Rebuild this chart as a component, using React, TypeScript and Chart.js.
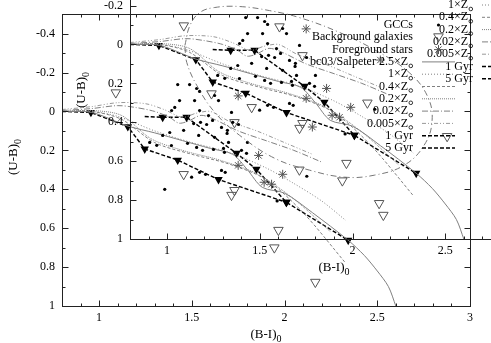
import React, { useEffect, useRef } from 'react';
import { Chart, registerables } from 'chart.js';

Chart.register(...registerables);

const FONT = "'Liberation Serif', 'Times New Roman', serif";

// axis ticks
const xTickValues = [1, 1.5, 2, 2.5, 3];
const xTickLabels = ['1', '1.5', '2', '2.5', '3'];
const yTickValues = [-0.4, -0.2, 0, 0.2, 0.4, 0.6, 0.8, 1];
const yTickLabels = ['-0.4', '-0.2', '0', '0.2', '0.4', '0.6', '0.8', '1'];

// GCCs
const gccBI = [1.424, 1.488, 1.526, 1.542, 1.434, 1.515, 1.408, 1.391, 1.542, 1.59, 1.612, 1.51, 1.58, 1.456, 1.381, 1.66, 1.623, 1.714, 1.752, 1.692, 1.644, 1.547, 1.623, 1.698, 1.537, 1.273, 1.311, 1.477, 1.526, 1.671, 1.558, 1.66, 1.68, 1.542, 1.574, 1.499, 1.354, 1.69, 1.8, 1.795, 2.12, 1.96, 1.39, 1.343, 1.768, 1.617, 1.676];
const gccUB = [-0.138, -0.138, -0.118, -0.103, -0.056, -0.056, -0.021, -0.005, -0.005, 0.021, 0.046, 0.062, 0.067, 0.097, 0.108, 0.082, -0.082, 0.005, 0.067, 0.097, -0.056, 0.056, 0.133, 0.159, 0.123, 0.159, 0.174, 0.164, 0.185, 0.19, 0.2, 0.303, 0.313, 0.313, 0.323, 0.338, 0.4, 0.113, 0.159, 0.215, 0.333, 0.46, 0.175, 0.123, 0.2, 0.195, 0.21];

// Background galaxies
const bgBI = [1.09, 1.606, 1.73, 1.456, 2.08, 1.714, 1.73, 1.967, 1.945, 2.51, 2.166];
const bgUB = [-0.097, -0.092, 0.056, 0.323, 0.3, 0.43, 0.405, 0.61, 0.7, 0.472, 0.877];

// Foreground stars
const fgBI = [1.75, 1.86, 1.75, 1.99, 1.89, 1.93, 2.15];
const fgUB = [-0.08, 0.226, 0.277, 0.323, 0.364, 0.374, 0.08];

// bc03 / Salpeter model tracks
const trk25BI = [0.8, 0.96, 1.155, 1.3, 1.45, 1.6, 1.72, 1.8, 1.88, 2.0, 2.15, 2.343, 2.43, 2.5, 2.56, 2.6];
const trk25UB = [0, 0.005, 0.075, 0.11, 0.15, 0.19, 0.22, 0.3, 0.39, 0.42, 0.52, 0.662, 0.74, 0.82, 0.9, 1.0];
const trk1BI = [0.8, 0.96, 1.1, 1.3, 1.5, 1.7, 1.9, 2.05, 2.2, 2.33];
const trk1UB = [0, 0.0, 0.025, 0.1, 0.16, 0.21, 0.29, 0.37, 0.46, 0.56];
const trk04BI = [0.8, 0.96, 1.12, 1.3, 1.5, 1.7, 1.9, 2.1, 2.33];
const trk04UB = [0, 0.0, 0.04, 0.16, 0.22, 0.27, 0.35, 0.52, 0.78];
const trk02BI = [0.8, 0.96, 1.12, 1.28, 1.45, 1.65, 1.85, 2.05, 2.25];
const trk02UB = [0, -0.005, 0.02, 0.14, 0.2, 0.25, 0.32, 0.45, 0.62];
const trk002BI = [0.8, 0.96, 1.1, 1.2, 1.3, 1.38, 1.43, 1.48, 1.55, 1.62, 1.75, 1.9, 2.05, 2.2];
const trk002UB = [-0.005, -0.015, -0.03, -0.02, 0.0, 0.03, 0.06, 0.05, 0.02, 0.04, 0.1, 0.15, 0.2, 0.26];
const trk0005BI = [0.8, 0.96, 1.1, 1.25, 1.35, 1.45, 1.52, 1.6, 1.7, 1.85, 2.0, 2.15];
const trk0005UB = [-0.01, -0.025, -0.045, -0.04, -0.01, 0.03, 0.01, 0.0, 0.05, 0.1, 0.16, 0.22];

// age lines
const gyr5BI = [0.8, 0.956, 1.155, 1.246, 1.424, 1.644, 2.01];
const gyr5UB = [0, 0.005, 0.078, 0.193, 0.25, 0.35, 0.467];
const gyr1BI = [1.246, 1.343, 1.472, 1.741, 1.848, 2.01, 2.343];
const gyr1UB = [0.026, 0.03, 0.03, 0.215, 0.297, 0.467, 0.662];

// selection ellipse (inset only)
const ellBI = [1.096, 1.123, 1.176, 1.257, 1.391, 1.553, 1.714, 1.929, 2.144, 2.305, 2.402, 2.429, 2.386, 2.278, 2.117, 1.956, 1.768, 1.58, 1.391, 1.257, 1.16, 1.106, 1.096];
const ellUB = [0.005, -0.097, -0.164, -0.19, -0.195, -0.174, -0.138, -0.062, 0.041, 0.144, 0.262, 0.39, 0.518, 0.621, 0.672, 0.682, 0.646, 0.585, 0.467, 0.349, 0.21, 0.092, 0.005];

const legendLabels = ['GCCs', 'Background galaxies', 'Foreground stars', 'bc03/Salpeter 2.5×Z', '1×Z', '0.4×Z', '0.2×Z', '0.02×Z', '0.005×Z', '1 Gyr', '5 Gyr'];
const legendSun = [false, false, false, true, true, true, true, true, true, false, false];

const GRAY = '#808080';
const dashes: number[][] = [[], [1, 2], [3, 2], [1, 1], [6, 2, 1, 2], [4, 2, 1, 2, 1, 2]];

const pts = (xs: number[], ys: number[]) => xs.map((x, i) => ({ x, y: ys[i] }));

function lineDs(xs: number[], ys: number[], dash: number[], color = GRAY, width = 1, tension = 0) {
  return {
    data: pts(xs, ys), showLine: true, borderColor: color, borderWidth: width, borderDash: dash,
    pointRadius: 0, fill: false, tension,
  };
}

function buildDatasets(withEllipse: boolean) {
  const ds: any[] = [
    { data: pts(gccBI, gccUB), showLine: false, pointRadius: 1.6, pointBackgroundColor: '#000', pointBorderColor: '#000', pointBorderWidth: 0 },
    { data: pts(bgBI, bgUB), showLine: false, pointStyle: 'triangle', pointRotation: 180, pointRadius: 5.5, pointBorderColor: '#555', pointBackgroundColor: 'rgba(0,0,0,0)', pointBorderWidth: 1 },
    { data: pts(fgBI, fgUB), showLine: false, pointStyle: 'star', pointRadius: 4.5, pointBorderColor: '#555', pointBorderWidth: 1 },
    lineDs(trk25BI, trk25UB, dashes[0], GRAY, 1, 0.3),
    lineDs(trk1BI, trk1UB, dashes[1], GRAY, 1, 0.3),
    lineDs(trk04BI, trk04UB, dashes[2], GRAY, 1, 0.3),
    lineDs(trk02BI, trk02UB, dashes[3], GRAY, 1, 0.3),
    lineDs(trk002BI, trk002UB, dashes[4], GRAY, 1, 0.3),
    lineDs(trk0005BI, trk0005UB, dashes[5], '#999', 1, 0.3),
    {
      data: pts(gyr1BI, gyr1UB), showLine: true, borderColor: '#000', borderWidth: 1.4, borderDash: [4, 2],
      pointStyle: 'triangle', pointRotation: 180, pointRadius: gyr1BI.map((_, i) => (i === 0 ? 0 : 3.5)),
      pointBackgroundColor: '#000', pointBorderColor: '#000', fill: false,
    },
    {
      data: pts(gyr5BI, gyr5UB), showLine: true, borderColor: '#000', borderWidth: 1.4, borderDash: [4, 2],
      pointStyle: 'triangle', pointRotation: 180, pointRadius: gyr5BI.map((_, i) => (i === 0 ? 0 : 3.5)),
      pointBackgroundColor: '#000', pointBorderColor: '#000', fill: false,
    },
  ];
  if (withEllipse) ds.push(lineDs(ellBI, ellUB, [6, 3, 1, 3], '#777', 1, 0.4));
  return ds;
}

function drawSubText(ctx: CanvasRenderingContext2D, main: string, sub: string, x: number, y: number, size: number) {
  ctx.font = `${size}px ${FONT}`;
  const w1 = ctx.measureText(main).width;
  ctx.font = `${size - 3}px ${FONT}`;
  const w2 = ctx.measureText(sub).width;
  const x0 = x - (w1 + w2) / 2;
  ctx.textAlign = 'left';
  ctx.textBaseline = 'middle';
  ctx.font = `${size}px ${FONT}`;
  ctx.fillText(main, x0, y);
  ctx.font = `${size - 3}px ${FONT}`;
  ctx.fillText(sub, x0 + w1, y + 4);
}

const framePlugin = {
  id: 'frame',
  afterDraw(chart: any, _args: any, opts: any) {
    const { ctx, chartArea: a, scales } = chart;
    const xs = scales.x, ys = scales.y;
    const L = Math.round(a.left) + 0.5, R = Math.round(a.right) + 0.5;
    const T = Math.round(a.top) + 0.5, B = Math.round(a.bottom) + 0.5;
    ctx.save();
    ctx.strokeStyle = '#222';
    ctx.lineWidth = 1;
    ctx.setLineDash([]);
    ctx.strokeRect(L, T, R - L, B - T);
    ctx.beginPath();
    for (let i = 8; i <= 30; i++) {
      const px = Math.round(xs.getPixelForValue(i / 10)) + 0.5;
      const len = i % 5 === 0 ? 6 : 3;
      ctx.moveTo(px, B); ctx.lineTo(px, B - len);
      ctx.moveTo(px, T); ctx.lineTo(px, T + len);
    }
    for (let i = -5; i <= 10; i++) {
      const py = Math.round(ys.getPixelForValue(i / 10)) + 0.5;
      const len = i % 2 === 0 ? 6 : 3;
      ctx.moveTo(L, py); ctx.lineTo(L + len, py);
      ctx.moveTo(R, py); ctx.lineTo(R - len, py);
    }
    ctx.stroke();

    // axis titles
    ctx.fillStyle = '#000';
    drawSubText(ctx, '(B-I)', '0', (a.left + a.right) / 2, 335, 13);
    ctx.save();
    ctx.translate(14, 157);
    ctx.rotate(-Math.PI / 2);
    drawSubText(ctx, '(U-B)', '0', 0, 0, 13);
    ctx.restore();

    // legend
    const right = opts.legendRight, top = opts.legendTop, step = 12.3;
    legendLabels.forEach((lab, i) => {
      const y = top + i * step;
      ctx.font = `12px ${FONT}`;
      ctx.textAlign = 'right';
      ctx.textBaseline = 'middle';
      ctx.fillStyle = '#000';
      if (legendSun[i]) {
        ctx.fillText(lab, right - 5, y);
        ctx.beginPath();
        ctx.setLineDash([]);
        ctx.lineWidth = 0.8;
        ctx.strokeStyle = '#000';
        ctx.arc(right - 2.2, y + 4, 1.8, 0, Math.PI * 2);
        ctx.stroke();
      } else {
        ctx.fillText(lab, right, y);
      }
      const sx0 = right + 9, sx1 = right + 42, sc = (sx0 + sx1) / 2;
      ctx.setLineDash([]);
      if (i === 0) {
        ctx.beginPath(); ctx.fillStyle = '#000'; ctx.arc(sc, y, 1.6, 0, Math.PI * 2); ctx.fill();
      } else if (i === 1) {
        ctx.beginPath(); ctx.strokeStyle = '#555'; ctx.lineWidth = 1;
        ctx.moveTo(sc - 4.8, y - 3.5); ctx.lineTo(sc + 4.8, y - 3.5); ctx.lineTo(sc, y + 4.5); ctx.closePath(); ctx.stroke();
      } else if (i === 2) {
        ctx.beginPath(); ctx.strokeStyle = '#555'; ctx.lineWidth = 1;
        const r = 4.5, d = r * Math.SQRT1_2;
        ctx.moveTo(sc - r, y); ctx.lineTo(sc + r, y);
        ctx.moveTo(sc, y - r); ctx.lineTo(sc, y + r);
        ctx.moveTo(sc - d, y - d); ctx.lineTo(sc + d, y + d);
        ctx.moveTo(sc - d, y + d); ctx.lineTo(sc + d, y - d);
        ctx.stroke();
      } else {
        ctx.beginPath();
        if (i >= 9) { ctx.strokeStyle = '#000'; ctx.lineWidth = 1.4; ctx.setLineDash([4, 2]); }
        else { ctx.strokeStyle = i === 8 ? '#999' : GRAY; ctx.lineWidth = 1; ctx.setLineDash(dashes[i - 3]); }
        ctx.moveTo(sx0, y); ctx.lineTo(sx1, y); ctx.stroke();
        ctx.setLineDash([]);
      }
    });
    ctx.restore();
  },
};

function Plot({ left, top, legendRight, legendTop, ellipse }: { left: number; top: number; legendRight: number; legendTop: number; ellipse: boolean }) {
  const ref = useRef<HTMLCanvasElement | null>(null);
  useEffect(() => {
    if (!ref.current) return;
    const tickFont = { family: FONT, size: 12 };
    const chart = new Chart(ref.current, {
      type: 'scatter',
      data: { datasets: buildDatasets(ellipse) },
      plugins: [framePlugin],
      options: {
        responsive: false,
        animation: false,
        devicePixelRatio: 1,
        events: [],
        layout: { padding: { left: 0, right: 21, top: 14, bottom: 0 } },
        plugins: {
          legend: { display: false },
          tooltip: { enabled: false },
          frame: { legendRight, legendTop },
        } as any,
        scales: {
          x: {
            type: 'linear', min: 0.8, max: 3,
            afterBuildTicks: (s: any) => { s.ticks = xTickValues.map((v) => ({ value: v })); },
            afterFit: (s: any) => { s.height = 37; },
            ticks: {
              font: tickFont, color: '#000', padding: 5, maxRotation: 0, autoSkip: false,
              callback: (v: any) => { const k = xTickValues.indexOf(Number(v)); return k >= 0 ? xTickLabels[k] : ''; },
            },
            grid: { display: false, drawTicks: false },
            border: { display: false },
          },
          y: {
            type: 'linear', min: -0.5, max: 1, reverse: true,
            afterBuildTicks: (s: any) => { s.ticks = yTickValues.map((v) => ({ value: v })); },
            afterFit: (s: any) => { s.width = 62; },
            ticks: {
              font: tickFont, color: '#000', padding: 7, autoSkip: false,
              callback: (v: any) => { const k = yTickValues.indexOf(Number(v)); return k >= 0 ? yTickLabels[k] : ''; },
            },
            grid: { display: false, drawTicks: false },
            border: { display: false },
          },
        },
      } as any,
    });
    return () => chart.destroy();
  }, []);
  return (
    <canvas
      ref={ref}
      width={491}
      height={343}
      style={{ position: 'absolute', left, top, width: 491, height: 343 }}
    />
  );
}

export default function App() {
  return (
    <div style={{ position: 'absolute', left: 0, top: 0, width: 491, height: 343, overflow: 'hidden', background: '#fff' }}>
      <Plot left={0} top={0} legendRight={473} legendTop={-44.2} ellipse={false} />
      <Plot left={68} top={-67} legendRight={345} legendTop={92} ellipse={true} />
    </div>
  );
}
